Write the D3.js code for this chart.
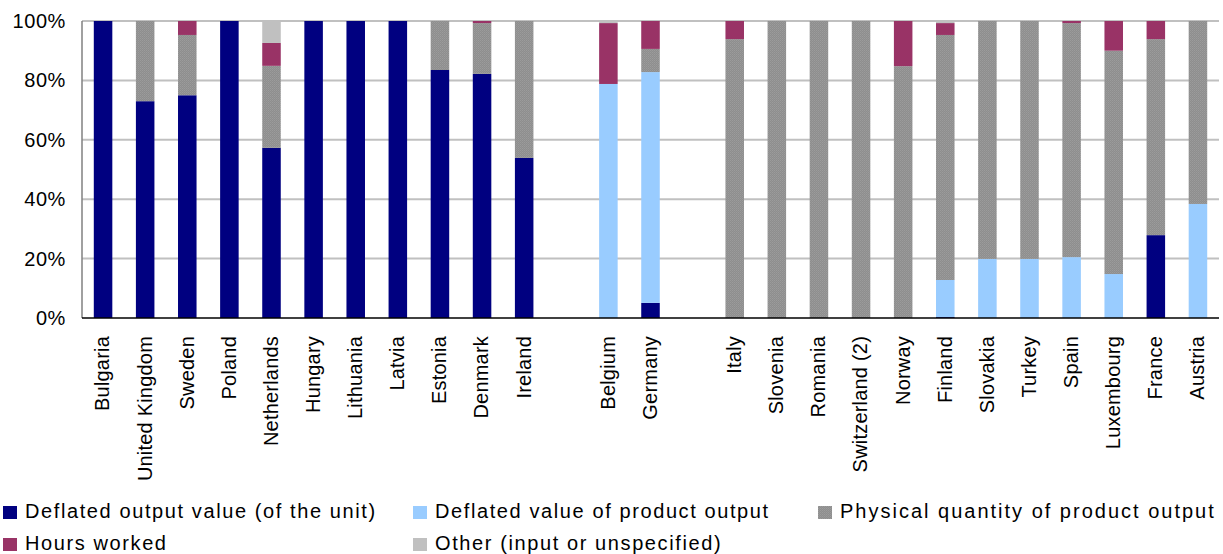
<!DOCTYPE html>
<meta charset="utf-8">
<title>Output measures by country</title>
<style>
  body { margin:0; padding:0; background:#fff; }
  text { font-family: 'Liberation Sans', Arial, sans-serif; fill:#000; }
</style>
<body>
<svg id="chart" width="1223" height="554"></svg>
<script src="https://cdn.jsdelivr.net/npm/d3@7"></script>
<script>

// categories, "" = empty slot between groups
var categories = ['Bulgaria','United Kingdom','Sweden','Poland','Netherlands','Hungary','Lithuania','Latvia','Estonia','Denmark','Ireland','',
  'Belgium','Germany','',
  'Italy','Slovenia','Romania','Switzerland (2)','Norway','Finland','Slovakia','Turkey','Spain','Luxembourg','France','Austria'];

var seriesNames = ['Deflated output value (of the unit)','Deflated value of product output','Physical quantity of product output','Hours worked','Other (input or unspecified)'];

// shares in %
var outputValue  = [100,73,75,100,57.3,100,100,100,83.5,82.2,53.9,0, 0,5.1,0, 0,0,0,0,0,0.3,0,0,0,0,27.9,0];
var productValue = [0,0,0,0,0,0,0,0,0,0,0,0, 78.8,77.7,0, 0,0,0,0,0,12.5,19.9,19.9,20.5,14.8,0,38.4];
var physicalQty  = [0,27,20.3,0,27.6,0,0,0,16.5,17.1,46.1,0, 0,7.8,0, 93.9,100,100,100,84.8,82.5,80.1,80.1,78.8,75.2,66,61.6];
var hoursWorked  = [0,0,4.7,0,7.7,0,0,0,0,0.7,0,0, 20.5,9.4,0, 6.1,0,0,0,15.2,4,0,0,0.7,10,6.1,0];
var otherInput   = [0,0,0,0,7.4,0,0,0,0,0,0,0, 0.7,0,0, 0,0,0,0,0,0.7,0,0,0,0,0,0];

var yTicks = [0,20,40,60,80,100];

var colors = ['#000080','#99ccff','url(#grayPat)','#993366','#c0c0c0'];

var svg = d3.select("#chart");

// dotted gray like the original fill
var pat = svg.append("defs").append("pattern")
  .attr("id","grayPat").attr("width",2).attr("height",2)
  .attr("patternUnits","userSpaceOnUse");
pat.append("rect").attr("width",2).attr("height",2).attr("fill","#8e8e8e");
pat.append("rect").attr("width",1).attr("height",1).attr("fill","#9c9c9c");
pat.append("rect").attr("x",1).attr("y",1).attr("width",1).attr("height",1).attr("fill","#969696");

var plotL = 82, plotR = 1219, plotT = 21, plotB = 318;

var x = d3.scaleBand()
  .domain(d3.range(categories.length))
  .range([plotL, plotR])
  .paddingInner(0.56)
  .paddingOuter(0.28);

var y = d3.scaleLinear().domain([0,100]).range([plotB, plotT]);

// gridlines
svg.append("g").selectAll("line")
  .data(yTicks.filter(function(d){ return d > 0; }))
  .enter().append("line")
  .attr("x1", plotL).attr("x2", plotR)
  .attr("y1", function(d){ return y(d); })
  .attr("y2", function(d){ return y(d); })
  .attr("stroke", "#c0c0c0")
  .attr("stroke-width", 2);

// stacked bars
var rows = categories.map(function(c,i) {
  return {i:i, s0:outputValue[i], s1:productValue[i], s2:physicalQty[i], s3:hoursWorked[i], s4:otherInput[i]};
});
var stack = d3.stack().keys(['s0','s1','s2','s3','s4'])(rows);

svg.append("g").selectAll("g")
  .data(stack)
  .enter().append("g")
  .attr("fill", function(d,k){ return colors[k]; })
  .selectAll("rect")
  .data(function(d){ return d.filter(function(p){ return p[1] - p[0] > 0; }); })
  .enter().append("rect")
  .attr("x", function(d){ return x(d.data.i); })
  .attr("width", x.bandwidth())
  .attr("y", function(d){ return y(d[1]); })
  .attr("height", function(d){ return y(d[0]) - y(d[1]); });

// axes lines
svg.append("line").attr("x1",plotL).attr("x2",plotL).attr("y1",plotT).attr("y2",plotB)
  .attr("stroke","#808080").attr("stroke-width",1.5);
svg.append("line").attr("x1",plotL).attr("x2",plotR).attr("y1",plotB).attr("y2",plotB)
  .attr("stroke","#000").attr("stroke-width",1.5);

// y labels
var yAxis = d3.axisLeft(y).tickValues(yTicks).tickSize(0).tickPadding(16)
  .tickFormat(function(d){ return d + "%"; });
var ya = svg.append("g").attr("transform","translate(" + plotL + ",0)").call(yAxis);
ya.select(".domain").remove();
ya.selectAll("text")
  .style("font-family","'Liberation Sans', Arial, sans-serif")
  .style("font-size","20px")
  .style("letter-spacing","0.6px")
  .attr("fill","#000");

// x labels, rotated
svg.append("g").selectAll("text")
  .data(categories.map(function(c,i){ return {c:c, i:i}; }).filter(function(d){ return d.c; }))
  .enter().append("text")
  .attr("transform", function(d){ return "translate(" + (x(d.i) + x.bandwidth()/2) + ",336) rotate(-90)"; })
  .attr("text-anchor","end")
  .attr("dy","0.32em")
  .style("font-size","20px")
  .style("letter-spacing","0.2px")
  .text(function(d){ return d.c; });

// legend
var legendPos = [[3,518],[413,518],[818,518],[3,550],[413,550]];
var lg = svg.append("g").selectAll("g")
  .data(seriesNames)
  .enter().append("g")
  .attr("transform", function(d,i){ return "translate(" + legendPos[i][0] + "," + legendPos[i][1] + ")"; });
lg.append("rect")
  .attr("x",0).attr("y",-12).attr("width",14).attr("height",13)
  .attr("fill", function(d,i){ return colors[i]; });
lg.append("text")
  .attr("x", 22)
  .style("font-size","20px")
  .style("letter-spacing", function(d,i){ return i == 2 ? "2px" : "1.6px"; })
  .text(function(d){ return d; });

</script>
</body>
</html>
